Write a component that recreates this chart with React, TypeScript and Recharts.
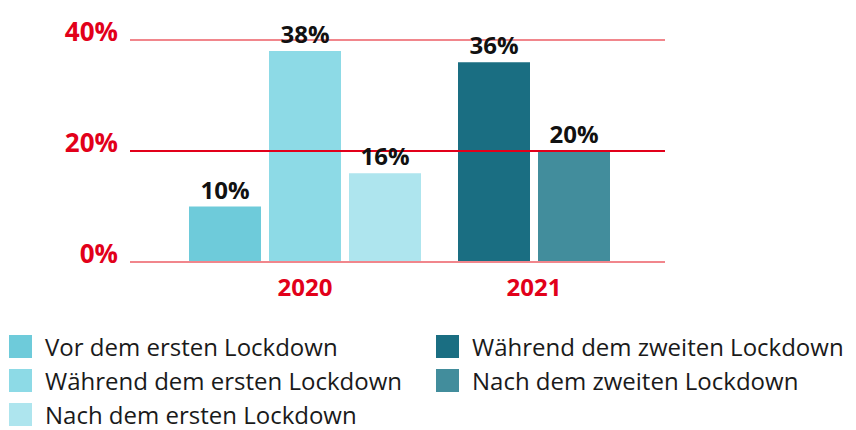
import { BarChart, Bar, XAxis, YAxis, ReferenceLine, LabelList } from "recharts";

const seriesNames = [
  "Vor dem ersten Lockdown",
  "Während dem ersten Lockdown",
  "Nach dem ersten Lockdown",
  "Während dem zweiten Lockdown",
  "Nach dem zweiten Lockdown",
];
const seriesColors = ["#6ECBDA", "#8DDAE6", "#AEE5EE", "#1A6E82", "#428D9C"];
const years = ["2020", "2021"];
const values2020 = [10, 38, 16];
const values2021 = [36, 20];
const yTicks = [0, 20, 40];

const RED = "#E2001A";
const LIGHT_RED = "#F1868C";
const FONT = "'Open Sans', sans-serif";

const data2020 = [{ year: years[0], s0: values2020[0], s1: values2020[1], s2: values2020[2] }];
const data2021 = [{ year: years[1], s3: values2021[0], s4: values2021[1] }];

const YearTick = ({ x, y, payload }: any) => (
  <text x={x} y={y + 26} textAnchor="middle" fill={RED} fontSize={24} fontWeight={700} fontFamily={FONT}>
    {payload.value}
  </text>
);

const PctTick = ({ x, y, payload }: any) => (
  <text x={x - 4} y={y + 1} textAnchor="end" fill={RED} fontSize={26} fontWeight={700} fontFamily={FONT}>
    {payload.value}%
  </text>
);

const gridLines = () => [
  <ReferenceLine key="g40" y={40} stroke={LIGHT_RED} strokeWidth={2} />,
  <ReferenceLine key="g20" y={20} stroke={RED} strokeWidth={2} />,
  <ReferenceLine key="g0" y={0} stroke={LIGHT_RED} strokeWidth={2} />,
];

const labelStyle = { fill: "#111", fontSize: 24, fontWeight: 700, fontFamily: FONT };

export default function App() {
  return (
    <div style={{ position: "absolute", left: 0, top: 0, width: 856, height: 430, background: "#fff", fontFamily: FONT }}>
      <div style={{ position: "absolute", left: 0, top: 0 }}>
        <BarChart width={440} height={320} data={data2020} margin={{ top: 40, right: 0, left: 0, bottom: 0 }} barSize={72} barGap={8}>
          <YAxis width={130} domain={[0, 40]} ticks={yTicks} axisLine={false} tickLine={false} tick={<PctTick />} />
          <XAxis dataKey="year" height={58} padding={{ left: 40, right: 0 }} axisLine={false} tickLine={false} tick={<YearTick />} />
          {gridLines()}
          {[0, 1, 2].map((i) => (
            <Bar key={i} dataKey={`s${i}`} name={seriesNames[i]} fill={seriesColors[i]} isAnimationActive={false}>
              <LabelList dataKey={`s${i}`} position="top" offset={8} formatter={(v: any) => `${v}%`} style={labelStyle} />
            </Bar>
          ))}
        </BarChart>
      </div>
      <div style={{ position: "absolute", left: 440, top: 0 }}>
        <BarChart width={225} height={320} data={data2021} margin={{ top: 40, right: 0, left: 0, bottom: 0 }} barSize={72} barGap={8}>
          <YAxis hide domain={[0, 40]} ticks={yTicks} />
          <XAxis dataKey="year" height={58} padding={{ left: 0, right: 37 }} axisLine={false} tickLine={false} tick={<YearTick />} />
          {gridLines()}
          {[3, 4].map((i) => (
            <Bar key={i} dataKey={`s${i}`} name={seriesNames[i]} fill={seriesColors[i]} isAnimationActive={false}>
              <LabelList dataKey={`s${i}`} position="top" offset={8} formatter={(v: any) => `${v}%`} style={labelStyle} />
            </Bar>
          ))}
        </BarChart>
      </div>
      {seriesNames.map((name, i) => {
        const col = i < 3 ? 0 : 1;
        const row = i < 3 ? i : i - 3;
        return (
          <div
            key={name}
            style={{
              position: "absolute",
              left: col === 0 ? 9 : 436,
              top: 333 + row * 34,
              display: "flex",
              alignItems: "center",
              height: 26,
            }}
          >
            <div style={{ width: 23, height: 23, background: seriesColors[i] }} />
            <span style={{ marginLeft: 13, fontSize: 24, color: "#1a1a1a", whiteSpace: "nowrap" }}>{name}</span>
          </div>
        );
      })}
    </div>
  );
}
